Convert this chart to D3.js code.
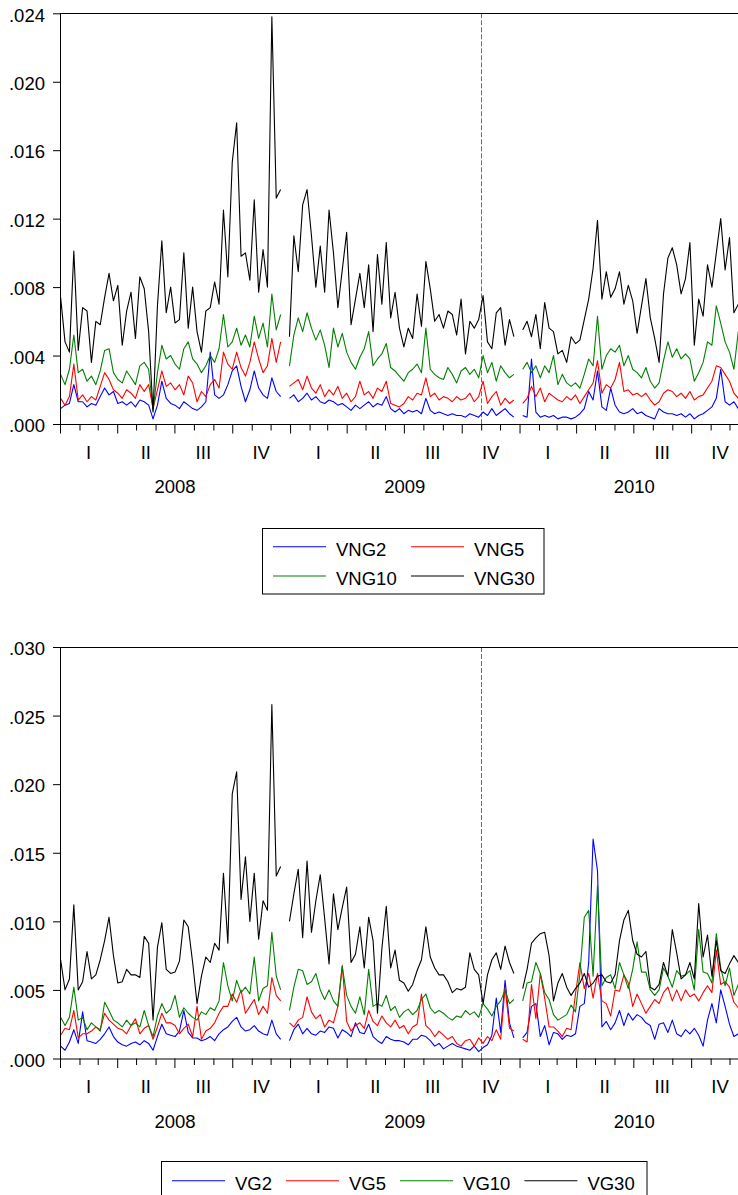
<!DOCTYPE html>
<html>
<head>
<meta charset="utf-8">
<script src="https://cdn.jsdelivr.net/npm/d3@7"></script>
<style>
  body { margin: 0; background: #fff; }
  svg { display: block; }
  text { font-family: "Liberation Sans", Arial, Helvetica, sans-serif; font-size: 18.5px; fill: #000; }
</style>
</head>
<body>
<svg id="chart" width="738" height="1195"></svg>
<script>
// Weekly observations starting on the first trading day of 2008; values are in thousandths.
const START = "2008-01-02";
const UNIT = 1e-3;

// Upper panel: VNG series
const vng2 = [
  0.9,1.1,1.2,2.3,1.3,1.3,1.0,1.2,1.1,1.6, 2.1,1.7,1.9,1.2,1.3,1.1,1.3,1.0,1.4,1.3,
  1.1,0.3,1.1,2.5,1.5,1.2,1.1,0.9,1.3,1.1, 0.9,0.8,1.0,1.3,4.2,1.7,1.5,1.7,2.3,3.1,
  3.4,2.2,1.3,2.0,3.1,2.1,1.7,1.5,2.7,1.9, 1.6,null,1.5,1.7,1.3,1.5,1.8,1.4,1.6,1.3,
  1.2,1.4,1.3,1.1,1.2,1.0,0.8,1.1,0.9,1.1, 1.3,1.0,1.2,1.1,1.6,0.9,0.7,0.9,0.6,0.8,
  0.7,0.8,0.6,1.5,0.8,0.6,0.7,0.6,0.5,0.6, 0.5,0.5,0.4,0.6,0.5,0.4,0.7,0.5,0.9,0.5,
  0.7,0.9,0.6,0.4,null,0.5,0.4,3.8,0.7,0.4, 0.5,0.4,0.5,0.3,0.4,0.4,0.3,0.4,0.6,0.9,
  1.9,1.4,3.1,1.0,0.8,2.1,1.1,0.7,0.6,0.7, 0.9,0.6,0.7,0.5,0.4,0.3,0.9,0.7,0.6,0.6,
  0.5,0.6,0.4,0.6,0.3,0.5,0.6,0.8,1.0,1.5, 3.2,1.3,1.1,1.3,0.9,0.8
];
const vng5 = [
  1.5,1.1,1.6,3.5,1.4,1.7,1.3,1.6,1.4,2.2, 3.0,2.6,2.0,1.8,1.5,2.0,1.8,1.5,2.3,1.9,
  2.3,0.9,2.0,3.1,2.2,2.4,2.0,2.3,1.7,2.8, 2.4,1.3,1.9,1.6,2.3,2.6,2.1,4.2,3.5,3.2,
  4.2,3.3,2.8,3.6,4.8,3.8,3.0,3.4,5.0,3.6, 4.8,null,2.2,2.4,2.6,2.0,2.8,2.1,1.8,2.3,
  1.6,2.0,1.7,2.2,1.5,1.8,1.3,1.6,2.5,1.7, 1.9,1.5,2.1,1.9,2.5,1.2,1.1,1.0,1.2,1.6,
  1.4,1.8,1.7,2.7,1.6,1.8,1.4,1.6,1.5,1.3, 1.6,1.4,1.5,1.8,1.3,1.6,2.5,1.2,1.6,1.9,
  1.1,1.5,1.2,1.4,null,1.2,1.5,2.2,1.6,2.1, 1.3,1.8,1.6,1.4,1.3,1.6,1.4,1.7,1.2,1.6,
  2.0,2.4,3.7,1.8,2.3,2.1,2.6,3.6,1.9,2.0, 1.7,1.8,1.6,1.8,1.4,1.1,1.3,1.8,2.0,1.9,
  1.6,1.8,1.5,1.9,1.4,1.6,1.7,2.1,2.5,3.4, 3.3,2.9,2.5,1.8,1.5,1.7
];
const vng10 = [
  2.9,2.3,3.2,5.2,3.0,3.2,2.5,2.8,2.3,3.1, 4.3,4.4,3.0,2.6,2.4,3.1,2.7,2.3,3.4,3.6,
  3.2,0.8,3.0,4.6,3.8,4.0,3.5,3.2,4.4,4.8, 3.8,3.5,3.0,3.4,4.0,3.6,4.4,6.4,4.5,4.8,
  5.6,4.6,5.2,4.5,6.3,5.0,5.9,4.5,7.6,5.5, 6.4,null,3.4,5.2,6.2,5.4,6.5,5.6,4.9,5.5,
  4.6,3.3,5.6,4.5,5.3,4.2,3.6,3.2,3.9,4.4, 5.4,3.4,3.8,4.1,4.7,3.3,3.1,2.8,2.5,3.0,
  3.2,3.5,3.0,5.6,3.2,2.9,2.7,2.6,3.3,2.9, 2.4,3.1,3.3,2.9,3.2,2.7,4.0,3.0,3.6,2.5,
  3.4,3.0,2.7,2.9,null,3.2,3.6,3.0,3.4,2.7, 3.4,3.0,4.0,2.3,2.9,2.4,2.2,2.4,2.1,2.9,
  3.8,3.4,6.3,3.2,4.0,4.4,4.2,4.6,3.4,4.0, 3.2,3.0,2.7,3.3,2.5,2.1,2.4,3.7,4.8,3.9,
  4.4,3.8,4.1,3.8,2.5,3.0,3.6,4.8,4.6,6.9, 5.9,4.8,4.2,3.2,5.4,4.0
];
const vng30 = [
  7.4,4.8,4.2,10.1,4.3,6.8,6.6,3.6,6.0,5.8, 7.4,8.8,7.2,8.1,4.6,6.6,7.7,5.0,8.6,7.9,
  5.4,0.7,6.9,10.7,6.5,8.0,5.9,6.1,10.0,5.6, 8.0,5.4,4.2,6.6,6.8,8.3,7.0,12.5,8.6,15.3,
  17.6,9.8,10.0,8.4,13.1,7.7,10.2,8.0,23.8,13.2, 13.7,null,5.1,11.0,8.9,12.8,13.7,11.0,8.0,10.4,
  7.7,12.5,10.0,6.8,9.0,11.2,5.8,7.3,8.8,6.8, 9.3,5.4,9.9,7.0,10.6,6.2,7.7,5.6,4.5,5.6,
  5.0,7.6,5.7,9.5,7.9,6.0,6.4,5.6,6.6,6.4, 5.2,7.3,4.1,6.0,5.6,6.1,7.5,4.8,4.4,6.5,
  6.8,4.6,6.1,5.1,null,5.5,6.0,5.1,6.4,4.4, 7.1,5.6,5.4,4.1,4.3,3.6,5.1,4.7,4.9,6.1,
  7.3,9.1,11.9,7.3,8.9,7.4,7.9,8.9,7.0,8.1, 7.2,5.3,6.9,8.5,6.2,5.0,3.6,7.6,9.7,10.3,
  9.3,7.6,8.5,10.6,4.6,7.3,6.3,9.3,8.0,10.0, 12.0,9.0,10.9,6.5,7.0,6.5
];

// Lower panel: VG series
const vg2 = [
  0.9,0.6,1.2,2.1,1.1,3.4,1.3,1.2,1.1,1.4, 1.8,2.3,1.6,1.2,1.0,0.9,1.1,1.2,1.0,1.3,
  1.1,0.6,1.6,2.5,1.8,1.7,1.6,2.0,3.5,1.9, 1.5,1.5,1.3,1.4,1.6,1.3,1.8,2.1,2.3,2.7,
  3.0,2.3,2.0,2.1,2.4,2.0,1.8,1.7,2.8,1.8, 1.4,null,1.3,2.1,2.5,1.8,2.2,1.8,1.7,2.0,
  1.9,2.3,2.2,1.5,2.1,1.9,1.6,2.6,1.9,1.8, 2.5,1.6,1.3,1.1,1.6,1.4,1.3,1.3,1.2,1.0,
  1.4,1.4,1.7,1.6,1.3,0.9,1.1,0.7,0.9,1.1, 0.9,0.8,0.7,0.6,0.9,0.5,0.8,1.0,1.7,4.4,
  1.9,5.7,2.6,1.5,null,1.5,1.9,3.8,4.0,1.6, 2.4,1.0,1.9,1.8,1.4,1.7,1.6,1.8,3.8,4.0,
  7.0,16.0,13.7,2.3,2.7,2.1,2.6,3.5,2.4,3.3, 2.8,3.2,3.0,2.6,2.4,1.4,2.5,2.6,1.9,2.8,
  1.8,1.6,2.1,1.8,2.2,1.7,0.9,2.8,4.0,2.6, 5.0,3.8,2.5,1.6,1.8,1.2
];
const vg5 = [
  1.7,2.2,2.1,3.5,1.5,1.8,1.8,2.0,2.3,2.1, 3.3,2.8,2.5,2.2,2.1,1.8,2.4,2.9,1.8,2.2,
  2.4,1.4,2.3,3.3,2.6,2.6,2.4,1.8,2.2,2.5, 1.6,3.8,1.4,2.0,2.2,2.6,3.3,3.8,3.8,4.7,
  4.1,5.0,3.3,3.8,4.3,3.2,3.8,3.3,5.9,4.6, 4.2,null,2.6,2.3,2.8,3.0,4.5,3.4,2.9,3.2,
  2.3,2.8,2.6,3.8,6.8,2.7,2.0,2.4,2.6,2.2, 3.5,2.7,2.4,3.1,2.6,2.3,2.8,2.2,2.4,1.8,
  2.3,2.5,4.7,2.4,2.1,1.6,2.0,1.7,1.4,1.6, 1.1,0.9,1.3,1.4,0.9,1.5,1.1,1.6,1.3,2.1,
  1.4,5.2,2.2,2.0,null,1.4,1.2,5.4,2.9,6.2, 4.4,2.3,2.3,2.0,1.6,2.2,2.1,4.7,7.0,5.1,
  6.2,4.4,6.2,4.2,4.0,3.1,5.0,4.9,6.1,5.5, 3.8,4.7,4.0,3.3,3.8,4.3,4.0,4.8,5.2,4.2,
  5.0,4.2,5.0,4.5,4.7,4.2,4.8,5.3,4.8,7.9, 5.4,5.6,5.2,4.1,3.7,3.5
];
const vg10 = [
  3.0,2.4,3.0,5.2,2.8,3.0,2.1,2.6,2.3,2.0, 4.1,3.5,2.8,2.6,2.3,2.8,2.4,2.6,2.3,3.5,
  2.4,1.6,3.1,4.0,3.3,3.6,4.6,3.0,3.7,3.3, 3.0,2.8,3.4,3.2,3.7,3.5,4.2,7.0,5.3,4.2,
  5.7,4.8,5.2,4.7,7.4,4.2,5.1,5.3,9.2,6.0, 5.0,null,3.5,5.2,6.5,6.4,5.4,5.6,6.2,5.0,
  4.3,5.0,4.2,3.8,6.7,4.6,3.8,3.3,4.5,3.2, 6.5,3.8,4.0,3.8,4.6,3.5,3.8,3.0,3.4,3.6,
  3.2,3.5,4.3,4.7,3.7,3.3,3.5,3.3,3.0,2.8, 3.1,3.0,3.5,3.2,3.4,3.0,4.0,3.6,3.1,3.8,
  4.2,5.0,4.0,4.3,null,4.2,5.5,5.6,7.0,6.2, 4.8,4.3,3.2,2.8,3.0,3.2,3.9,3.4,6.2,10.3,
  10.8,6.0,12.6,5.3,5.9,6.1,5.1,7.0,6.1,5.1, 6.5,8.5,6.3,6.3,5.0,4.6,5.0,6.6,6.0,5.2,
  6.4,6.0,6.1,6.4,5.0,9.4,6.3,6.2,5.5,9.1, 6.6,5.3,6.6,4.6,5.4,5.0
];
const vg30 = [
  7.2,5.0,5.8,11.2,5.0,5.6,7.8,5.8,6.1,7.2, 8.6,10.3,7.5,5.5,5.6,6.5,6.1,6.1,5.9,8.9,
  8.4,2.8,8.1,9.9,6.5,6.2,6.3,7.1,10.1,9.6, 7.0,4.0,6.0,7.4,7.0,8.4,7.9,13.5,8.4,19.3,
  20.9,11.6,14.7,10.0,13.5,8.7,11.5,10.8,25.8,13.3, 14.0,null,10.0,12.0,13.8,8.8,14.4,9.2,11.5,13.4,
  10.2,6.9,12.0,9.4,11.0,12.5,7.0,7.6,9.6,6.6, 10.3,8.6,3.3,8.0,11.1,6.6,7.9,5.7,5.5,4.9,
  5.4,6.4,7.2,9.6,7.4,6.6,6.1,6.1,5.6,4.8, 5.1,5.0,5.2,7.7,6.5,6.1,4.0,6.1,7.2,7.7,
  6.5,8.2,7.0,6.2,null,5.1,6.5,8.4,8.8,9.1, 9.2,7.5,4.2,5.5,6.2,5.2,4.6,5.1,5.5,6.2,
  5.2,5.5,6.0,6.1,5.6,5.5,6.1,8.6,10.1,10.8, 8.6,7.6,7.4,7.8,5.2,5.0,5.4,7.0,6.0,9.4,
  7.7,5.8,6.1,7.0,5.8,11.3,7.4,9.0,6.0,8.6, 6.4,6.2,6.9,7.5,7.0,7.5
];

const years = [2008, 2009, 2010];
const quarterLabels = ["I", "II", "III", "IV"];
const eventDate = "2009-11-01";

const COLORS = { s2: "#0000ff", s5: "#ff0000", s10: "#008000", s30: "#000000" };

const W = 738;
const svg = d3.select("#chart");
const parse = d3.utcParse("%Y-%m-%d");
const start = parse(START);
const weekDates = d3.range(vng2.length).map(i => d3.utcDay.offset(start, 7 * i));

const x = d3.scaleUtc()
  .domain([new Date(Date.UTC(2008, 0, 1)), new Date(Date.UTC(2011, 0, 1))])
  .range([60, 749]);

const panels = [
  {
    id: "a", top: 13.3, bottom: 424, yMax: 0.024, yStep: 0.004,
    series: [
      { name: "VNG2", values: vng2, color: COLORS.s2 },
      { name: "VNG5", values: vng5, color: COLORS.s5 },
      { name: "VNG10", values: vng10, color: COLORS.s10 },
      { name: "VNG30", values: vng30, color: COLORS.s30 }
    ],
    legend: { kind: "grid", box: [262.5, 528.5, 281.5, 65.5],
              cols: [273, 411], rows: [546.7, 576] }
  },
  {
    id: "b", top: 647, bottom: 1058.5, yMax: 0.030, yStep: 0.005,
    series: [
      { name: "VG2", values: vg2, color: COLORS.s2 },
      { name: "VG5", values: vg5, color: COLORS.s5 },
      { name: "VG10", values: vg10, color: COLORS.s10 },
      { name: "VG30", values: vg30, color: COLORS.s30 }
    ],
    legend: { kind: "row", box: [161.5, 1161.5, 485.5, 60], x0: 172, y: 1180.7 }
  }
];

const fmt = d => d3.format(".3f")(d).replace(/^0/, "");

function drawPanel(p) {
  const g = svg.append("g");
  const y = d3.scaleLinear().domain([0, p.yMax]).range([p.bottom, p.top]);

  const clipId = "clip-" + p.id;
  svg.append("clipPath").attr("id", clipId)
    .append("rect").attr("x", 60).attr("y", p.top - 1)
    .attr("width", W - 60).attr("height", p.bottom - p.top + 1);

  // vertical dashed marker
  const ex = Math.round(x(parse(eventDate))) + 0.5;
  g.append("line")
    .attr("x1", ex).attr("x2", ex).attr("y1", p.top).attr("y2", p.bottom + 2)
    .attr("stroke", "#6e6e6e").attr("stroke-width", 1).attr("stroke-dasharray", "5,2");

  // series lines
  const line = d3.line()
    .defined(d => d.v != null)
    .x(d => x(d.date))
    .y(d => y(d.v * UNIT));
  p.series.forEach(s => {
    g.append("path")
      .datum(s.values.map((v, i) => ({ date: weekDates[i], v })))
      .attr("clip-path", `url(#${clipId})`)
      .attr("fill", "none")
      .attr("stroke", s.color)
      .attr("stroke-width", 1.1)
      .attr("stroke-linejoin", "round")
      .attr("d", line);
  });

  // top frame line
  g.append("line")
    .attr("x1", 60).attr("x2", W).attr("y1", Math.round(p.top) + 0.5).attr("y2", Math.round(p.top) + 0.5)
    .attr("stroke", "#000").attr("stroke-width", 1);

  // left axis
  const nTicks = Math.round(p.yMax / p.yStep);
  const yAxis = d3.axisLeft(y)
    .tickValues(d3.range(nTicks + 1).map(i => i * p.yStep))
    .tickSize(7).tickSizeOuter(0).tickPadding(8)
    .tickFormat(fmt);
  const ya = g.append("g").attr("transform", "translate(60,0)").call(yAxis);
  ya.selectAll("text").attr("dy", "0.42em");
  ya.selectAll("path, line").attr("stroke", "#000");

  // bottom axis with monthly ticks, longer at quarter starts
  const months = d3.utcMonth.range(new Date(Date.UTC(2008, 0, 1)), new Date(Date.UTC(2011, 0, 1)));
  const xAxis = d3.axisBottom(x).tickValues(months).tickFormat("").tickSizeOuter(0).tickSize(6.5);
  const xa = g.append("g").attr("transform", `translate(0,${p.bottom})`).call(xAxis);
  xa.selectAll(".tick line")
    .attr("y2", d => (d.getUTCMonth() % 3 === 0 ? 9.5 : 6.5))
    .attr("stroke", "#000");
  xa.select(".domain").attr("stroke", "#000");

  // quarter and year labels
  years.forEach(yr => {
    quarterLabels.forEach((q, qi) => {
      const a = x(new Date(Date.UTC(yr, qi * 3, 1)));
      const b = x(new Date(Date.UTC(yr, qi * 3 + 3, 1)));
      g.append("text").attr("x", (a + b) / 2).attr("y", p.bottom + 34.5)
        .attr("text-anchor", "middle").text(q);
    });
    const a = x(new Date(Date.UTC(yr, 0, 1)));
    const b = x(new Date(Date.UTC(yr + 1, 0, 1)));
    g.append("text").attr("x", (a + b) / 2).attr("y", p.bottom + 69.3)
      .attr("text-anchor", "middle").text(yr);
  });

  // legend
  const L = p.legend;
  const lg = svg.append("g");
  lg.append("rect")
    .attr("x", L.box[0]).attr("y", L.box[1]).attr("width", L.box[2]).attr("height", L.box[3])
    .attr("fill", "#fff").attr("stroke", "#000").attr("stroke-width", 1);
  const lineLen = 53;
  if (L.kind === "grid") {
    p.series.forEach((s, i) => {
      const cx = L.cols[i % 2], cy = L.rows[Math.floor(i / 2)];
      lg.append("line").attr("x1", cx).attr("x2", cx + lineLen).attr("y1", cy).attr("y2", cy)
        .attr("stroke", s.color).attr("stroke-width", 1.1);
      lg.append("text").attr("x", cx + 63).attr("y", cy + 9.2).text(s.name);
    });
  } else {
    let cx = L.x0;
    p.series.forEach(s => {
      lg.append("line").attr("x1", cx).attr("x2", cx + lineLen).attr("y1", L.y).attr("y2", L.y)
        .attr("stroke", s.color).attr("stroke-width", 1.1);
      const t = lg.append("text").attr("x", cx + 63).attr("y", L.y + 9).text(s.name);
      cx = cx + 63 + t.node().getComputedTextLength() + 14;
    });
  }
}

panels.forEach(drawPanel);
</script>
</body>
</html>
